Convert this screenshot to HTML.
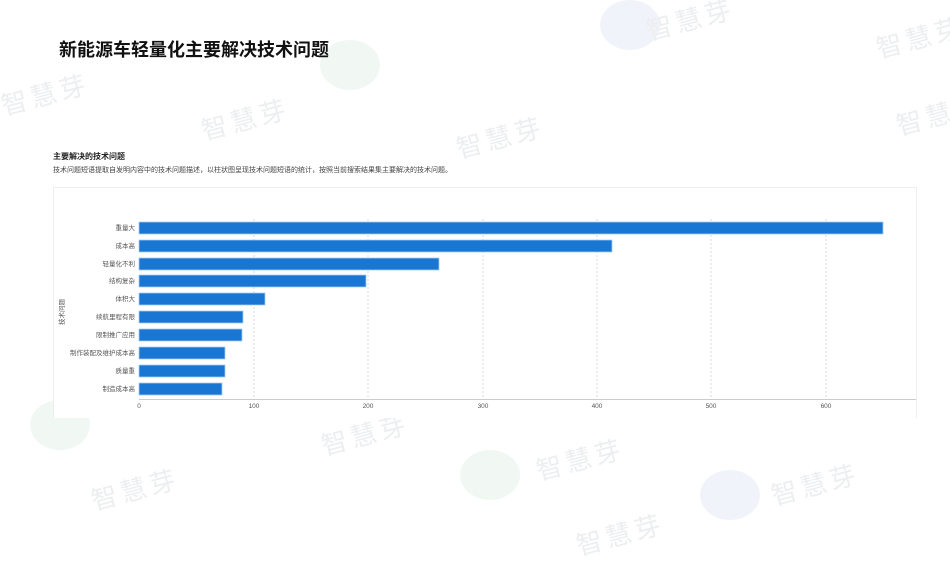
<!DOCTYPE html>
<html><head><meta charset="utf-8"><style>
html,body{margin:0;padding:0;background:#fff;}
body{width:950px;height:535px;overflow:hidden;position:relative;font-family:"Liberation Sans","Noto Sans CJK SC",sans-serif;}
.wm{position:absolute;color:#eceef0;font-size:26px;transform:rotate(-15deg);font-family:"Noto Sans CJK SC",sans-serif;letter-spacing:4px;white-space:nowrap;}
.dot{position:absolute;border-radius:50%;background:#f1f8f4;}
</style></head><body>
<div class="dot" style="left:320px;top:40px;width:60px;height:50px;"></div>
<div class="dot" style="left:600px;top:0px;width:60px;height:50px;background:#f1f3fb"></div>
<div class="dot" style="left:30px;top:400px;width:60px;height:50px;"></div>
<div class="dot" style="left:460px;top:450px;width:60px;height:50px;"></div>
<div class="dot" style="left:700px;top:470px;width:60px;height:50px;background:#f1f3fb"></div>
<div class="wm" style="left:0;top:75px">智慧芽</div>
<div class="wm" style="left:200px;top:100px">智慧芽</div>
<div class="wm" style="left:455px;top:118px">智慧芽</div>
<div class="wm" style="left:645px;top:0px">智慧芽</div>
<div class="wm" style="left:875px;top:18px">智慧芽</div>
<div class="wm" style="left:895px;top:95px">智慧芽</div>
<div class="wm" style="left:90px;top:470px">智慧芽</div>
<div class="wm" style="left:320px;top:415px">智慧芽</div>
<div class="wm" style="left:535px;top:440px">智慧芽</div>
<div class="wm" style="left:770px;top:465px">智慧芽</div>
<div class="wm" style="left:575px;top:515px">智慧芽</div>
<div style="position:absolute;left:59px;top:36px;font-size:18px;font-weight:bold;color:#111;">新能源车轻量化主要解决技术问题</div>
<div style="position:absolute;left:53px;top:151px;font-size:8px;font-weight:bold;color:#222;">主要解决的技术问题</div>
<div style="position:absolute;left:53px;top:165px;font-size:7px;color:#444;">技术问题短语提取自发明内容中的技术问题描述，以柱状图呈现技术问题短语的统计，按照当前搜索结果集主要解决的技术问题。</div>
<svg width="950" height="535" style="position:absolute;left:0;top:0" font-family="Liberation Sans,Noto Sans CJK SC,sans-serif">
<path d="M53.5 418 V187.5 H916.5 V418" fill="#fff" stroke="#eeeeee"/>
<g stroke="#d8d8d8" stroke-dasharray="2,2">
<line x1="254" y1="219" x2="254" y2="399"/><line x1="368" y1="219" x2="368" y2="399"/><line x1="483" y1="219" x2="483" y2="399"/><line x1="597" y1="219" x2="597" y2="399"/><line x1="711" y1="219" x2="711" y2="399"/><line x1="826" y1="219" x2="826" y2="399"/>
</g>
<line x1="139" y1="399.5" x2="916" y2="399.5" stroke="#ccc"/>
<g fill="#1976d2" stroke="#a8cdf0" stroke-width="0.8">
<rect x="139" y="222" width="744" height="12"/>
<rect x="139" y="240" width="473" height="12"/>
<rect x="139" y="258" width="300" height="12"/>
<rect x="139" y="275" width="227" height="12"/>
<rect x="139" y="293" width="126" height="12"/>
<rect x="139" y="311" width="104" height="12"/>
<rect x="139" y="329" width="103" height="12"/>
<rect x="139" y="347" width="86" height="12"/>
<rect x="139" y="365" width="86" height="12"/>
<rect x="139" y="383" width="83" height="12"/>
</g>
<g font-size="6.5" fill="#555" text-anchor="end">
<text x="135" y="230">重量大</text>
<text x="135" y="248">成本高</text>
<text x="135" y="266">轻量化不利</text>
<text x="135" y="283">结构复杂</text>
<text x="135" y="301">体积大</text>
<text x="135" y="319">续航里程有限</text>
<text x="135" y="337">限制推广应用</text>
<text x="135" y="355">制作装配及维护成本高</text>
<text x="135" y="373">质量重</text>
<text x="135" y="391">制造成本高</text>
</g>
<g font-size="6.5" fill="#555" text-anchor="middle">
<text x="139" y="408">0</text><text x="254" y="408">100</text><text x="368" y="408">200</text><text x="483" y="408">300</text><text x="597" y="408">400</text><text x="711" y="408">500</text><text x="826" y="408">600</text>
</g>
<text x="0" y="0" font-size="6.5" fill="#555" text-anchor="middle" transform="translate(64,312) rotate(-90)">技术问题</text>
</svg>
</body></html>
